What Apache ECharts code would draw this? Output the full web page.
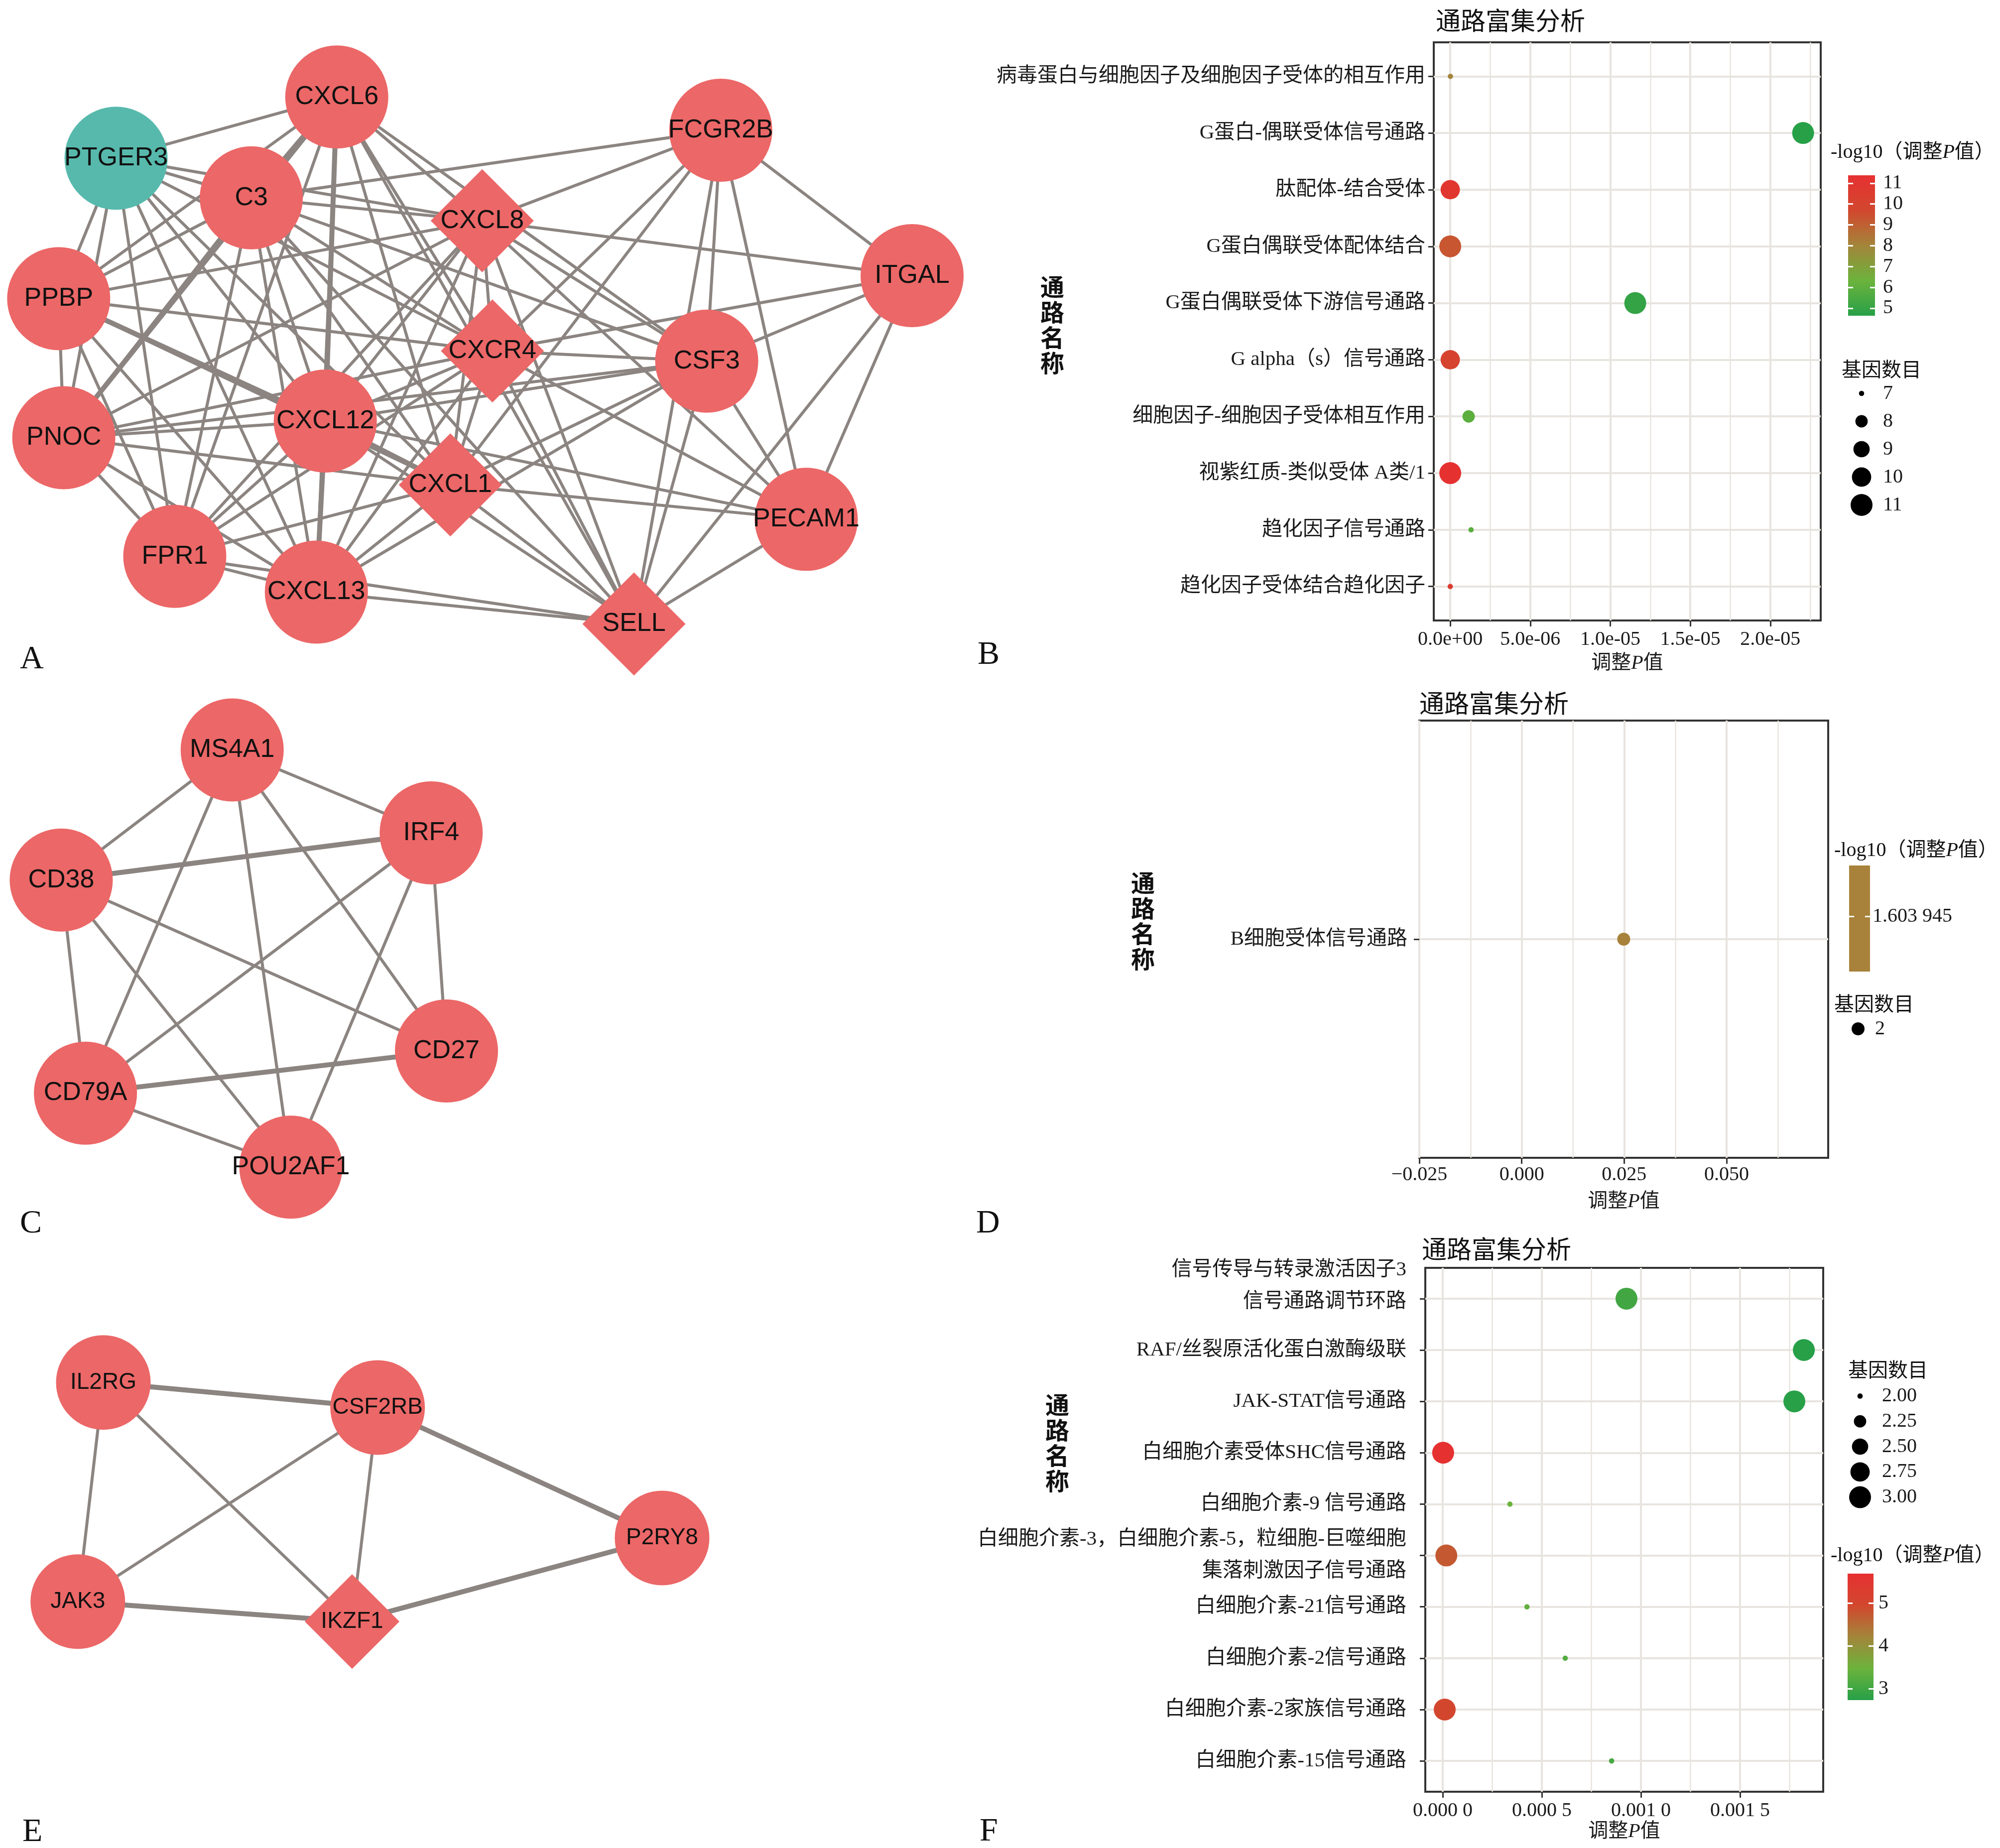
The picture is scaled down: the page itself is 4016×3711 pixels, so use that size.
<!DOCTYPE html>
<html><head><meta charset="utf-8">
<script src="https://cdn.jsdelivr.net/npm/echarts@6/dist/echarts.min.js"></script>
<style>html,body{margin:0;padding:0;background:#fff}#c{width:4016px;height:3711px}</style>
</head><body><div id="c"></div>
<script>
// ================= DATA =================
// Panel A network (layout coordinates, node type, edges with weight)
const aNames = ['PTGER3','CXCL6','C3','FCGR2B','CXCL8','ITGAL','PPBP','CXCR4','CSF3','CXCL12','PNOC','CXCL1','PECAM1','FPR1','CXCL13','SELL'];
const aX = [91,264,197,565,378,715,46,386,554,255,50,353,632,137,248,497];
const aY = [94,46,125,72,143,186,204,245,253,300,313,350,377,406,434,459];
const aShape = ['circle','circle','circle','circle','diamond','circle','circle','diamond','circle','circle','circle','diamond','circle','circle','circle','diamond'];
const aKind = ['teal','red','red','red','red','red','red','red','red','red','red','red','red','red','red','red'];
const aEdges = [
 ['PTGER3','CXCL6',1],['PTGER3','C3',1],['PTGER3','CXCL8',1],['PTGER3','PPBP',1],['PTGER3','PNOC',1],['PTGER3','FPR1',1],['PTGER3','CXCL13',1],['PTGER3','CXCL12',1],['PTGER3','CXCL1',1],['PTGER3','CXCR4',1],
 ['CXCL6','C3',2],['CXCL6','PPBP',1],['CXCL6','PNOC',2],['CXCL6','FPR1',1],['CXCL6','CXCL12',2],['CXCL6','CXCL13',1],['CXCL6','CXCL8',1],['CXCL6','CXCR4',1],['CXCL6','CXCL1',1],['CXCL6','CSF3',1],['CXCL6','SELL',1],
 ['C3','FCGR2B',1],['C3','CXCL8',1],['C3','PPBP',1],['C3','PNOC',1],['C3','FPR1',1],['C3','CXCL12',1],['C3','CXCL13',1],['C3','CXCR4',1],['C3','CXCL1',1],['C3','SELL',1],['C3','CSF3',1],
 ['PPBP','PNOC',1],['PPBP','CXCL8',1],['PPBP','CXCR4',1],['PPBP','CXCL12',2],['PPBP','CXCL1',1],['PPBP','FPR1',1],['PPBP','CXCL13',1],
 ['PNOC','CXCL8',1],['PNOC','CXCR4',1],['PNOC','CXCL12',1],['PNOC','CSF3',1],['PNOC','CXCL1',1],['PNOC','FPR1',1],['PNOC','CXCL13',1],
 ['FPR1','CXCL12',1],['FPR1','CXCL8',1],['FPR1','CXCR4',1],['FPR1','CXCL1',1],['FPR1','CXCL13',1],['FPR1','SELL',1],
 ['CXCL13','CXCL12',2],['CXCL13','CXCL8',1],['CXCL13','CXCR4',1],['CXCL13','CXCL1',1],['CXCL13','CSF3',1],['CXCL13','SELL',1],
 ['CXCL12','CXCL8',1],['CXCL12','CXCR4',1],['CXCL12','CXCL1',2],['CXCL12','CSF3',1],['CXCL12','SELL',1],['CXCL12','PECAM1',1],
 ['CXCL8','FCGR2B',1],['CXCL8','ITGAL',1],['CXCL8','CXCR4',1],['CXCL8','CXCL1',1],['CXCL8','CSF3',1],['CXCL8','SELL',1],['CXCL8','PECAM1',1],
 ['CXCR4','FCGR2B',1],['CXCR4','ITGAL',1],['CXCR4','CSF3',1],['CXCR4','CXCL1',1],['CXCR4','SELL',1],['CXCR4','PECAM1',1],
 ['CXCL1','FCGR2B',1],['CXCL1','CSF3',1],['CXCL1','SELL',1],['CXCL1','PECAM1',1],
 ['FCGR2B','ITGAL',1],['FCGR2B','CSF3',1],['FCGR2B','SELL',1],['FCGR2B','PECAM1',1],
 ['ITGAL','CSF3',1],['ITGAL','PECAM1',1],['ITGAL','SELL',1],
 ['CSF3','PECAM1',1],['CSF3','SELL',1],['SELL','PECAM1',1]
];
// Panel C network
const cNames = ['MS4A1','IRF4','CD38','CD27','CD79A','POU2AF1'];
const cX = [182,338,48,350,67,228];
const cY = [48,113,150,284,317,375];
const cShape = ['circle','circle','circle','circle','circle','circle'];
const cKind = ['red','red','red','red','red','red'];
const cEdges = [
 ['MS4A1','CD38',1],['MS4A1','IRF4',1],['MS4A1','CD79A',1],['MS4A1','POU2AF1',1],['MS4A1','CD27',1],
 ['CD38','IRF4',2],['CD38','CD27',1],['CD38','CD79A',1],['CD38','POU2AF1',1],
 ['IRF4','CD27',1],['IRF4','CD79A',1],['IRF4','POU2AF1',1],
 ['CD79A','CD27',2],['CD79A','POU2AF1',1]
];
// Panel E network
const eNames = ['IL2RG','CSF2RB','P2RY8','JAK3','IKZF1'];
const eX = [81,296,519,61,276];
const eY = [54,78,203,264,283];
const eShape = ['circle','circle','circle','circle','diamond'];
const eKind = ['red','red','red','red','red'];
const eEdges = [
 ['IL2RG','CSF2RB',2],['IL2RG','JAK3',1],['IL2RG','IKZF1',1],['CSF2RB','JAK3',1],
 ['CSF2RB','IKZF1',1],['CSF2RB','P2RY8',2],['JAK3','IKZF1',2],['IKZF1','P2RY8',2]
];

// Panel B dot plot
const bCats = ['病毒蛋白与细胞因子及细胞因子受体的相互作用','G蛋白-偶联受体信号通路','肽配体-结合受体','G蛋白偶联受体配体结合','G蛋白偶联受体下游信号通路','G alpha（s）信号通路','细胞因子-细胞因子受体相互作用','视紫红质-类似受体 A类/1','趋化因子信号通路','趋化因子受体结合趋化因子'];
const bAdjP = [1e-8, 2.205e-5, 1e-11, 5e-10, 1.156e-5, 1e-10, 1.15e-6, 4e-12, 1.3e-6, 3e-11];
const bGenes = [7, 11, 10, 11, 11, 10, 8, 11, 7, 7];
const bNegLog = [8.0, 4.66, 11.0, 9.3, 4.94, 10.0, 5.94, 11.38, 5.89, 10.5];
const bXRange = [-1.03e-6, 2.315e-5];
const bXTicks = [0, 5e-6, 1e-5, 1.5e-5, 2e-5];
const bXTickLabels = ['0.0e+00','5.0e-06','1.0e-05','1.5e-05','2.0e-05'];
const bXMinor = [2.5e-6, 7.5e-6, 1.25e-5, 1.75e-5, 2.25e-5];
const bColorRange = [4.64, 11.38];
const bColorTicks = [5,6,7,8,9,10,11];
const bColorTickLabels = ['5','6','7','8','9','10','11'];
const bSizeBreaks = [7,8,9,10,11];
const bSizeLabels = ['7','8','9','10','11'];

// Panel D dot plot
const dCats = ['B细胞受体信号通路'];
const dAdjP = [0.02489];
const dGenes = [2];
const dNegLog = [1.603945];
const dXRange = [-0.025, 0.0748];
const dXTicks = [-0.025, 0, 0.025, 0.05];
const dXTickLabels = ['\u22120.025','0.000','0.025','0.050'];
const dXMinor = [-0.0125, 0.0125, 0.0375, 0.0625];
const dColorRange = [1.5, 1.7];
const dColorTicks = [1.603945];
const dColorTickLabels = ['1.603 945'];
const dSizeBreaks = [2];
const dSizeLabels = ['2'];

// Panel F dot plot
const fCats = ['信号传导与转录激活因子3\n信号通路调节环路','RAF/丝裂原活化蛋白激酶级联','JAK-STAT信号通路','白细胞介素受体SHC信号通路','白细胞介素-9 信号通路','白细胞介素-3，白细胞介素-5，粒细胞-巨噬细胞\n集落刺激因子信号通路','白细胞介素-21信号通路','白细胞介素-2信号通路','白细胞介素-2家族信号通路','白细胞介素-15信号通路'];
const fAdjP = [0.000927, 0.001822, 0.001774, 0.000002, 0.000339, 0.000018, 0.000425, 0.000618, 0.000010, 0.000852];
const fGenes = [3, 3, 3, 3, 2, 3, 2, 2, 3, 2];
const fNegLog = [3.03, 2.74, 2.75, 5.69, 3.47, 4.74, 3.37, 3.21, 5.0, 3.07];
const fXRange = [-0.000088, 0.0019196];
const fXTicks = [0, 0.0005, 0.001, 0.0015];
const fXTickLabels = ['0.000 0','0.000 5','0.001 0','0.001 5'];
const fXMinor = [0.00025, 0.00075, 0.00125, 0.00175];
const fColorRange = [2.74, 5.69];
const fColorTicks = [3,4,5];
const fColorTickLabels = ['3','4','5'];
const fSizeBreaks = [2, 2.25, 2.5, 2.75, 3];
const fSizeLabels = ['2.00','2.25','2.50','2.75','3.00'];

// ================= STYLE =================
const SERIF = '"Liberation Serif","Noto Sans CJK SC",serif';
const SANS = '"Liberation Sans",Arial,sans-serif';
const CJKB = '"Noto Sans CJK SC",sans-serif';
const GRIDC = '#e8e4df';
const EDGE = '#8b8480';
const RED = '#ec6767';
const TEAL = '#57b9ac';
const PALETTE = ['#27a048','#6cb33c','#a3853a','#d2472e','#e63131'];
const D_COLOR = '#a8823a';
const TXT = '#1a1a1a';

function ggSize(vmin, vmax){ return v => 4 + 40 * Math.sqrt(1 + 35 * (v - vmin) / (vmax - vmin)) / 6; }

// ================= BUILD =================
const grids = [], xAxes = [], yAxes = [], series = [], visualMaps = [];
const addGrid = g => (grids.push(g), grids.length - 1);
const addX = a => (xAxes.push(a), xAxes.length - 1);
const addY = a => (yAxes.push(a), yAxes.length - 1);
function pick(vals, labels){
  return v => { let k = 0, b = Infinity; vals.forEach((t,i)=>{ const d = Math.abs(t - v); if (d < b){ b = d; k = i; } }); return labels[k]; };
}
const NAME_STYLE = {fontSize:40, fontFamily:SERIF, color:TXT, rich:{i:{fontStyle:'italic', fontSize:40, fontFamily:SERIF, color:TXT}}};
const NOLINE = {show:false, onZero:false};
// rich styles used to lift the first line of a raised two-line label
const LIFT_RICH = {
  l1:{fontSize:41, fontFamily:SERIF, color:TXT, lineHeight:12},
  l2:{fontSize:41, fontFamily:SERIF, color:TXT, lineHeight:116}
};

function network(names, xs, ys, shapes, kinds, edges, box, range, nodeSize, fontSize){
  const gi = addGrid({left:box[0], top:box[1], width:box[2], height:box[3]});
  const xi = addX({type:'value', gridIndex:gi, show:false, min:0, max:range[0], axisLine:NOLINE});
  const yi = addY({type:'value', gridIndex:gi, show:false, min:0, max:range[1], inverse:true, axisLine:NOLINE});
  series.push({
    type:'graph', coordinateSystem:'cartesian2d', xAxisIndex:xi, yAxisIndex:yi, silent:true, z:2,
    data: names.map((n,i)=>({name:n, value:[xs[i], ys[i]], symbol:shapes[i], itemStyle:{color: kinds[i]==='teal'?TEAL:RED, opacity:1}})),
    links: edges.map(e=>({source:e[0], target:e[1], lineStyle:{width: e[2]===2 ? 10 : 6}})),
    symbolSize: nodeSize,
    label:{show:true, position:'inside', color:'#111', fontSize:fontSize, fontFamily:SANS},
    lineStyle:{color:EDGE, opacity:1, curveness:0},
    emphasis:{disabled:true}
  });
}

function dotPlot(o){
  const gi = addGrid({left:o.box[0], top:o.box[1], width:o.box[2], height:o.box[3], show:true, borderColor:'#333', borderWidth:4, backgroundColor:'rgba(0,0,0,0)'});
  addX({type:'value', gridIndex:gi, position:'top', min:o.xRange[0], max:o.xRange[1],
    axisLine:NOLINE, axisTick:{show:false, customValues:o.minor}, axisLabel:{show:false},
    splitLine:{show:true, lineStyle:{color:GRIDC, width:2.5}}});
  const xi = addX({type:'value', gridIndex:gi, position:'bottom', min:o.xRange[0], max:o.xRange[1],
    axisLine:NOLINE,
    axisTick:{show:true, length:12, lineStyle:{color:'#333', width:3}, customValues:o.ticks},
    axisLabel:{show:true, customValues:o.ticks, formatter:pick(o.ticks, o.tickLabels), margin:o.xMargin, fontSize:40, fontFamily:SERIF, color:TXT, showMinLabel:true, showMaxLabel:true},
    splitLine:{show:true, lineStyle:{color:GRIDC, width:4}},
    name:'调整{i|P}值', nameLocation:'middle', nameGap:o.nameGap, nameTextStyle:NAME_STYLE});
  const n = o.cats.length;
  const idx = o.cats.map((c,i)=>i+1);
  const fmt = v => {
    const k = Math.round(v) - 1, s = o.cats[k];
    if (o.liftFirst && k === 0 && s.indexOf('\n') >= 0) {
      const parts = s.split('\n');
      return '{l1|' + parts[0] + '}\n{l2|' + parts[1] + '}';
    }
    return s;
  };
  const yi = addY({type:'value', gridIndex:gi, inverse:true, min:0.4, max:n+0.6,
    axisLine:NOLINE,
    axisTick:{show:true, length:11, lineStyle:{color:'#333', width:3}, customValues:idx},
    axisLabel:{show:true, customValues:idx, formatter:fmt, margin:o.yMargin, fontSize:41, lineHeight:64, fontFamily:SERIF, color:TXT, showMinLabel:true, showMaxLabel:true, hideOverlap:false, rich:LIFT_RICH},
    splitLine:{show:true, lineStyle:{color:GRIDC, width:4}}});
  const si = series.length;
  series.push({type:'scatter', xAxisIndex:xi, yAxisIndex:yi, silent:true, z:3,
    data:o.x.map((x,i)=>[x, i+1, o.genes[i], o.negLog[i]]),
    symbolSize:v=>o.size(v[2]),
    itemStyle: o.color ? {color:o.color, opacity:1} : {opacity:1}});
  if (!o.color) visualMaps.push({type:'continuous', show:false, seriesIndex:si, dimension:3, min:o.cRange[0], max:o.cRange[1], inRange:{color:PALETTE}});
}

function colorBar(o){
  const gi = addGrid({left:o.box[0], top:o.box[1], width:o.box[2], height:o.box[3]});
  const xi = addX({type:'value', gridIndex:gi, show:false, min:0, max:1, axisLine:NOLINE});
  const common = {type:'value', gridIndex:gi, min:o.range[0], max:o.range[1], z:10,
    axisLine:NOLINE, splitLine:{show:false},
    axisTick:{show:true, inside:true, length:10, lineStyle:{color:'#fff', width:3}, customValues:o.ticks}};
  const yl = addY(Object.assign({}, common, {position:'left', axisLabel:{show:false}}));
  addY(Object.assign({}, common, {position:'right', axisLabel:{show:true, customValues:o.ticks, formatter:pick(o.ticks, o.labels), margin:o.margin, fontSize:40, fontFamily:SERIF, color:TXT, showMinLabel:true, showMaxLabel:true}}));
  const fill = o.solid ? o.solid : {type:'linear', x:0, y:1, x2:0, y2:0, colorStops:PALETTE.map((c,i)=>({offset:i/(PALETTE.length-1), color:c}))};
  series.push({type:'custom', xAxisIndex:xi, yAxisIndex:yl, silent:true, z:2,
    data:[[o.range[0], o.range[1]]],
    renderItem:(p, api)=>{
      const lo = api.value(0), hi = api.value(1);
      const a = api.coord([0, hi]), b = api.coord([1, lo]);
      return {type:'rect', shape:{x:a[0], y:a[1], width:b[0]-a[0], height:b[1]-a[1]}, style:{fill:fill}};
    }});
}

function sizeLegend(o){
  const gi = addGrid({left:o.box[0], top:o.box[1], width:o.box[2], height:o.box[3]});
  const xi = addX({type:'value', gridIndex:gi, show:false, min:0, max:1, axisLine:NOLINE});
  const idx = o.breaks.map((b,i)=>i);
  const yi = addY({type:'value', gridIndex:gi, position:'right', inverse:true, min:-0.5, max:o.breaks.length-0.5,
    axisLine:NOLINE, axisTick:{show:false}, splitLine:{show:false},
    axisLabel:{show:true, customValues:idx, formatter:v=>o.labels[Math.round(v)], margin:o.margin, fontSize:40, fontFamily:SERIF, color:TXT, showMinLabel:true, showMaxLabel:true}});
  series.push({type:'scatter', xAxisIndex:xi, yAxisIndex:yi, silent:true,
    data:o.breaks.map((b,i)=>[0.5, i, b]), symbolSize:v=>o.size(v[2]), itemStyle:{color:'#000', opacity:1}});
}

// networks
network(aNames, aX, aY, aShape, aKind, aEdges, [0, 77, 1998, 1281], [780, 500], 207, 52);
network(cNames, cX, cY, cShape, cKind, cEdges, [0, 1383, 1998, 1281], [780, 500], 207, 52);
network(eNames, eX, eY, eShape, eKind, eEdges, [0, 2663, 1998, 1281], [780, 500], 190, 46);

// panel B
const bSize = ggSize(7, 11);
dotPlot({box:[2879, 85, 777, 1161], xRange:bXRange, ticks:bXTicks, tickLabels:bXTickLabels, minor:bXMinor,
  cats:bCats, x:bAdjP, genes:bGenes, negLog:bNegLog, size:bSize, cRange:bColorRange, xMargin:18, nameGap:66, yMargin:17});
colorBar({box:[3711, 352, 54, 282], range:bColorRange, ticks:bColorTicks, labels:bColorTickLabels, margin:16});
sizeLegend({box:[3715, 762, 46, 280], breaks:bSizeBreaks, labels:bSizeLabels, size:bSize, margin:20});

// panel D
const dSize = () => 26;
dotPlot({box:[2850, 1447, 821, 878], xRange:dXRange, ticks:dXTicks, tickLabels:dXTickLabels, minor:dXMinor,
  cats:dCats, x:dAdjP, genes:dGenes, negLog:dNegLog, size:dSize, color:D_COLOR, xMargin:14, nameGap:68, yMargin:24});
colorBar({box:[3713, 1738, 42, 213], range:dColorRange, ticks:dColorTicks, labels:dColorTickLabels, margin:5, solid:D_COLOR});
sizeLegend({box:[3711, 2038, 40, 56], breaks:dSizeBreaks, labels:dSizeLabels, size:dSize, margin:14});

// panel F
const fSize = ggSize(2, 3);
dotPlot({box:[2862, 2546, 799, 1052], xRange:fXRange, ticks:fXTicks, tickLabels:fXTickLabels, minor:fXMinor,
  cats:fCats, x:fAdjP, genes:fGenes, negLog:fNegLog, size:fSize, cRange:fColorRange, xMargin:18, nameGap:60, yMargin:38, liftFirst:true});
colorBar({box:[3710, 3160, 52, 254], range:fColorRange, ticks:fColorTicks, labels:fColorTickLabels, margin:10});
sizeLegend({box:[3713, 2778, 44, 254], breaks:fSizeBreaks, labels:fSizeLabels, size:fSize, margin:22});

// texts
function T(text, left, top, size, extra){
  return {text:text, left:left, top:top, padding:0, itemGap:0,
    textStyle:Object.assign({fontSize:size, fontFamily:SERIF, fontWeight:'normal', color:'#111', lineHeight:size,
      rich:{i:{fontStyle:'italic', fontSize:size, fontFamily:SERIF, color:'#111'}}}, extra || {})};
}
const VT = '通\n路\n名\n称';
const titles = [
  T('A', 40, 1292, 66), T('B', 1963, 1283, 66), T('C', 40, 2425, 66),
  T('D', 1960, 2425, 66), T('E', 45, 3647, 66), T('F', 1967, 3646, 66),
  T('通路富集分析', 2883, 22, 50), T('通路富集分析', 2850, 1393, 50), T('通路富集分析', 2855, 2489, 50),
  T(VT, 2089, 550, 48, {fontWeight:'bold', fontFamily:CJKB, lineHeight:51}),
  T(VT, 2271, 1747, 48, {fontWeight:'bold', fontFamily:CJKB, lineHeight:51}),
  T(VT, 2099, 2795, 48, {fontWeight:'bold', fontFamily:CJKB, lineHeight:51}),
  T('-log10（调整{i|P}值）', 3676, 286, 40), T('基因数目', 3698, 725, 40),
  T('-log10（调整{i|P}值）', 3683, 1688, 40), T('基因数目', 3683, 1999, 40),
  T('基因数目', 3711, 2734, 40), T('-log10（调整{i|P}值）', 3676, 3104, 40)
];

const chart = echarts.init(document.getElementById('c'), null, {renderer:'canvas', width:4016, height:3711});
chart.setOption({
  animation:false,
  backgroundColor:'#ffffff',
  textStyle:{fontFamily:SERIF},
  title:titles,
  grid:grids,
  xAxis:xAxes,
  yAxis:yAxes,
  visualMap:visualMaps,
  series:series
});
</script>
</body></html>
